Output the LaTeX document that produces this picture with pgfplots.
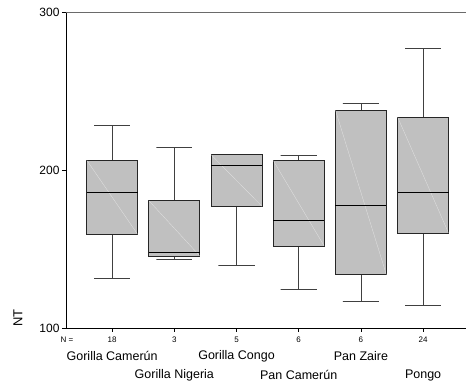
\documentclass[border=0pt]{standalone}
\usepackage{pgfplots}
\pgfplotsset{compat=1.18}
\usepackage{fontspec}
\setmainfont{Liberation Sans}

\definecolor{boxgray}{HTML}{C0C0C0}
\definecolor{whisk}{HTML}{404040}
\definecolor{frametop}{HTML}{6A6A6A}

\begin{document}
\begin{tikzpicture}
\begin{axis}[
  scale only axis, width=400pt, height=316pt,
  xmin=0.258, xmax=6.69, ymin=100, ymax=300,
  clip=false, no markers,
  axis line style={draw=none},
  ytick={100,200,300},
  xtick={1,2,3,4,5,6},
  xticklabels={18,3,5,6,6,24},
  xtick pos=left, ytick pos=left,
  tick align=outside, major tick length=4pt,
  tick style={black, line width=0.6pt},
  /pgf/number format/assume math mode=true,
  yticklabel style={font=\fontsize{12}{14}\selectfont, xshift=1pt},
  xticklabel style={font=\fontsize{8}{10}\selectfont, yshift=-1pt},
  box/.style={fill=boxgray, draw=black!85, line width=0.8pt},
  whisker/.style={whisk, line width=0.8pt},
  med/.style={black, line width=0.8pt},
  diag/.style={white, opacity=0.55, line width=0.3pt},
]
% axis frame: left, bottom and top only
\draw[black, line width=0.8pt] (rel axis cs:0,1) -- (rel axis cs:0,0) -- (rel axis cs:1,0);
\draw[frametop, line width=0.8pt] (rel axis cs:0,1) -- (rel axis cs:1,1);

% Gorilla Camerún: 131.6 / 159.3 / 186.0 / 206.3 / 228.0
\addplot[whisker] coordinates {(1,206.3) (1,228.0) (0.71,228.0) (1.29,228.0)};
\addplot[whisker] coordinates {(1,159.3) (1,131.6) (0.71,131.6) (1.29,131.6)};
\addplot[box] coordinates {(0.59,159.3) (1.41,159.3) (1.41,206.3) (0.59,206.3)} -- cycle;
\addplot[diag] coordinates {(0.59,206.3) (1.41,159.3)};
\addplot[med] coordinates {(0.59,186.0) (1.41,186.0)};

% Gorilla Nigeria: 143.7 / 145.6 / 147.7 / 180.6 / 214.1
\addplot[whisker] coordinates {(2,180.6) (2,214.1) (1.71,214.1) (2.29,214.1)};
\addplot[whisker] coordinates {(2,145.6) (2,143.7) (1.71,143.7) (2.29,143.7)};
\addplot[box] coordinates {(1.59,145.6) (2.41,145.6) (2.41,180.6) (1.59,180.6)} -- cycle;
\addplot[diag] coordinates {(1.59,180.6) (2.41,145.6)};
\addplot[med] coordinates {(1.59,147.7) (2.41,147.7)};

% Gorilla Congo: 139.9 / 177.0 / 203.0 / 209.7 / 209.7
\addplot[whisker] coordinates {(3,177.0) (3,139.9) (2.71,139.9) (3.29,139.9)};
\addplot[box] coordinates {(2.59,177.0) (3.41,177.0) (3.41,209.7) (2.59,209.7)} -- cycle;
\addplot[diag] coordinates {(2.59,209.7) (3.41,177.0)};
\addplot[med] coordinates {(2.59,203.0) (3.41,203.0)};

% Pan Camerún: 124.5 / 151.9 / 168.2 / 206.0 / 209.0
\addplot[whisker] coordinates {(4,206.0) (4,209.0) (3.71,209.0) (4.29,209.0)};
\addplot[whisker] coordinates {(4,151.9) (4,124.5) (3.71,124.5) (4.29,124.5)};
\addplot[box] coordinates {(3.59,151.9) (4.41,151.9) (4.41,206.0) (3.59,206.0)} -- cycle;
\addplot[diag] coordinates {(3.59,206.0) (4.41,151.9)};
\addplot[med] coordinates {(3.59,168.2) (4.41,168.2)};

% Pan Zaire: 116.7 / 133.7 / 177.7 / 238.0 / 242.2
\addplot[whisker] coordinates {(5,238.0) (5,242.2) (4.71,242.2) (5.29,242.2)};
\addplot[whisker] coordinates {(5,133.7) (5,116.7) (4.71,116.7) (5.29,116.7)};
\addplot[box] coordinates {(4.59,133.7) (5.41,133.7) (5.41,238.0) (4.59,238.0)} -- cycle;
\addplot[diag] coordinates {(4.59,238.0) (5.41,133.7)};
\addplot[med] coordinates {(4.59,177.7) (5.41,177.7)};

% Pongo: 114.6 / 160.1 / 185.9 / 233.5 / 276.8
\addplot[whisker] coordinates {(6,233.5) (6,276.8) (5.71,276.8) (6.29,276.8)};
\addplot[whisker] coordinates {(6,160.1) (6,114.6) (5.71,114.6) (6.29,114.6)};
\addplot[box] coordinates {(5.59,160.1) (6.41,160.1) (6.41,233.5) (5.59,233.5)} -- cycle;
\addplot[diag] coordinates {(5.59,233.5) (6.41,160.1)};
\addplot[med] coordinates {(5.59,185.9) (6.41,185.9)};

% sample sizes and group names
\node[font=\fontsize{8}{10}\selectfont] at ([xshift=1pt,yshift=-12pt]rel axis cs:0,0) {N =};
\node[font=\fontsize{12.5}{15}\selectfont] at ([yshift=-28pt]axis cs:1,100) {Gorilla Camerún};
\node[font=\fontsize{12.5}{15}\selectfont] at ([yshift=-47pt]axis cs:2,100) {Gorilla Nigeria};
\node[font=\fontsize{12.5}{15}\selectfont] at ([yshift=-28pt]axis cs:3,100) {Gorilla Congo};
\node[font=\fontsize{12.5}{15}\selectfont] at ([yshift=-47pt]axis cs:4,100) {Pan Camerún};
\node[font=\fontsize{12.5}{15}\selectfont] at ([yshift=-28pt]axis cs:5,100) {Pan Zaire};
\node[font=\fontsize{12.5}{15}\selectfont] at ([yshift=-47pt]axis cs:6,100) {Pongo};

% y axis title
\node[rotate=90, font=\fontsize{13}{15}\selectfont] at ([xshift=-48pt,yshift=10pt]rel axis cs:0,0) {NT};
\end{axis}
\pgfresetboundingbox
\path (-66pt,-57pt) rectangle (400pt,328pt);
\end{tikzpicture}
\end{document}
